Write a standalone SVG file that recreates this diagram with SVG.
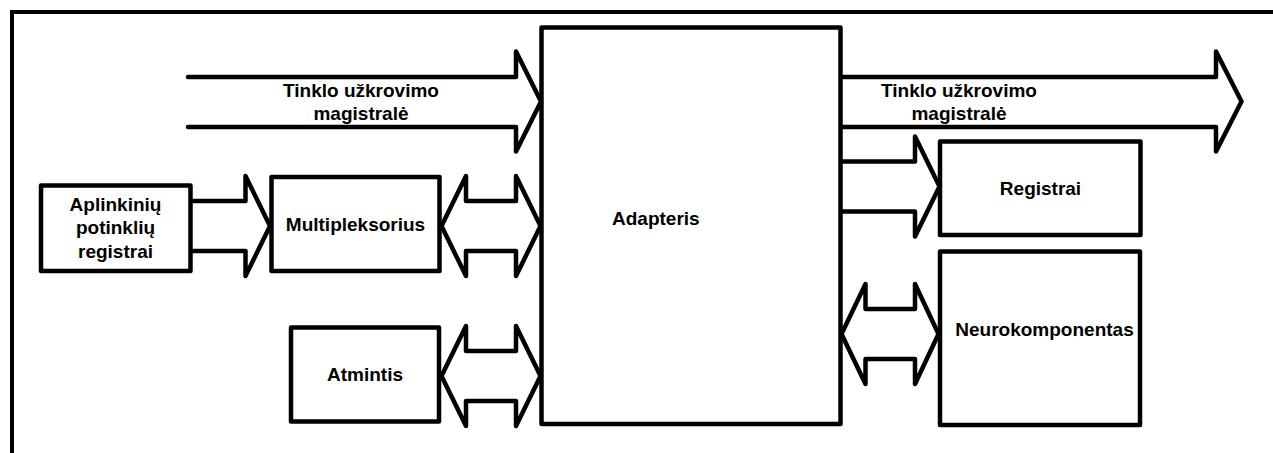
<svg xmlns="http://www.w3.org/2000/svg" width="1273" height="453" viewBox="0 0 1273 453">
  <style>
    .box { fill: #ffffff; stroke: #000000; stroke-width: 4.5; stroke-linejoin: round; }
    .bus { fill: none; stroke: #000000; stroke-width: 4.5; stroke-linejoin: round; stroke-linecap: round; }
    .frame { fill: none; stroke: #000000; stroke-width: 4; }
    text { font-family: "Liberation Sans", Arial, sans-serif; font-weight: bold; font-size: 19px; fill: #000000; }
    .c { text-anchor: middle; }
  </style>
  <rect width="1273" height="453" fill="#ffffff"/>

  <!-- outer frame -->
  <path class="frame" d="M12,453 V12 H1273"/>

  <!-- buses between the blocks -->
  <g id="connectors">
    <!-- incoming load bus -->
    <path class="bus" d="M188,77 H516 V51.5 L541,101.5 L516,151.5 V127 H188"/>
    <!-- outgoing load bus -->
    <path class="bus" d="M840,77 H1216 V51.5 L1241.5,101.5 L1216,151.5 V127 H840"/>
    <!-- subnet registers to multiplexer -->
    <path class="bus" d="M190,201 H245.5 V176 L270,226 L245.5,276 V251 H190"/>
    <!-- multiplexer <-> adapter -->
    <path class="bus" d="M466,201 H516 V176 L540.5,226 L516,276 V251 H466 V276 L441.5,226 L466,176 Z"/>
    <!-- memory <-> adapter -->
    <path class="bus" d="M466,351 H516 V326 L540.5,376 L516,426 V401 H466 V426 L441.5,376 L466,326 Z"/>
    <!-- adapter to registers -->
    <path class="bus" d="M840,161.5 H915 V136.5 L939.5,186.5 L915,236.5 V211.5 H840"/>
    <!-- adapter <-> neuro component -->
    <path class="bus" d="M865.5,309 H915 V284 L938.5,334 L915,384 V359 H865.5 V384 L841.5,334 L865.5,284 Z"/>
    <text class="c" x="361" y="97">Tinklo užkrovimo</text>
    <text class="c" x="361" y="120">magistralė</text>
    <text class="c" x="959" y="97">Tinklo užkrovimo</text>
    <text class="c" x="959" y="120">magistralė</text>
  </g>

  <g id="aplinkiniu">
    <rect class="box" x="41" y="185.5" width="149.5" height="85.5"/>
    <text class="c" x="115.5" y="210.5">Aplinkinių</text>
    <text class="c" x="115.5" y="234">potinklių</text>
    <text class="c" x="115.5" y="257.5">registrai</text>
  </g>

  <g id="multipleksorius">
    <rect class="box" x="271.5" y="177" width="168" height="94"/>
    <text class="c" x="355.5" y="230.5">Multipleksorius</text>
  </g>

  <g id="atmintis">
    <rect class="box" x="291" y="327.5" width="148" height="94"/>
    <text class="c" x="365" y="381">Atmintis</text>
  </g>

  <g id="adapteris">
    <rect class="box" x="541.5" y="27.5" width="299" height="396.5"/>
    <text x="612" y="225">Adapteris</text>
  </g>

  <g id="registrai">
    <rect class="box" x="940" y="141.5" width="200.5" height="93.5"/>
    <text class="c" x="1040.5" y="195">Registrai</text>
  </g>

  <g id="neurokomponentas">
    <rect class="box" x="940" y="251.5" width="200" height="173.5"/>
    <text class="c" x="1044.5" y="336">Neurokomponentas</text>
  </g>
</svg>
